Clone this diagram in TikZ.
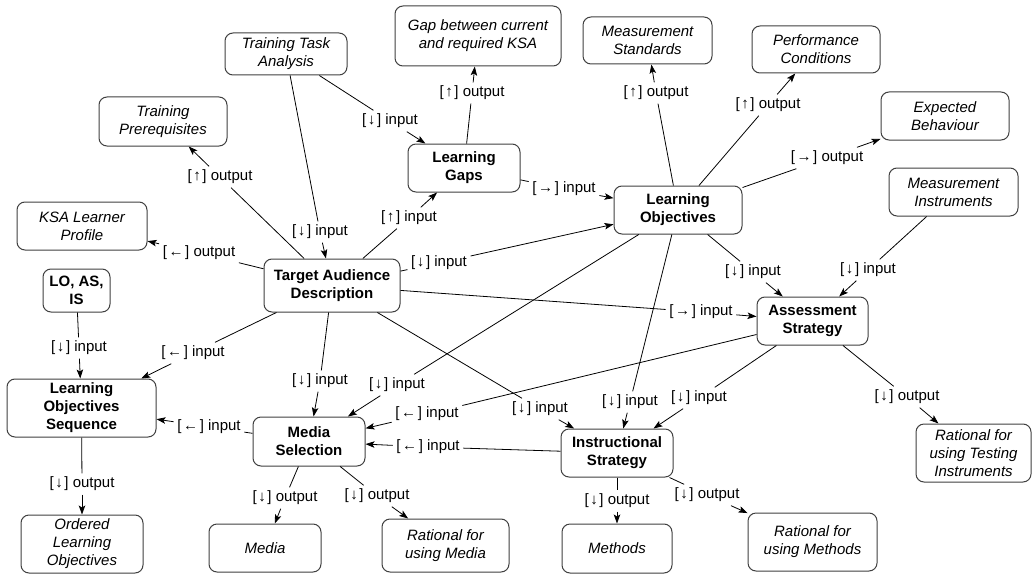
\documentclass[tikz,border=0pt]{standalone}
\usepackage{fontspec}
\setmainfont{Liberation Sans}
\usetikzlibrary{arrows.meta}
% direction mark in a linking phrase, e.g. \dm{↓}
\newcommand\dm[1]{[\kern1.6pt#1\kern1.6pt]}
\begin{document}
\begin{tikzpicture}[x=1pt,y=-1pt,
  base/.style={font=\fontsize{15}{18}\selectfont},
  box/.style={base, draw=black!75, line width=1pt, rounded corners=8pt,
    align=center, inner sep=2pt, fill=white},
  sz/.style 2 args={minimum width=#1pt, minimum height=#2pt},
  concept/.style={box, font=\fontsize{15}{18}\selectfont\bfseries},
  result/.style={box, font=\fontsize{15}{18}\selectfont\itshape},
  lab/.style={base, inner sep=3.5pt},
  conn/.style={line width=0.8pt, black},
  arr/.style={conn, -{Stealth[length=9pt,width=6.5pt,inset=2pt]}}
]
\useasboundingbox (0,0) rectangle (1035,575);

% concepts
\node[concept, sz={136}{53}] (tad) at (332,285.5) {Target Audience\\Description};
\node[concept, sz={112}{48}] (lg) at (464,168) {Learning\\Gaps};
\node[concept, sz={128}{48}] (lo) at (678,210) {Learning\\Objectives};
\node[concept, sz={111}{48}] (as) at (812.5,321) {Assessment\\Strategy};
\node[concept, sz={67}{43}] (loasis) at (76.5,290.5) {LO, AS,\\IS};
\node[concept, sz={149}{58}] (los) at (81.5,408) {Learning\\Objectives\\Sequence};
\node[concept, sz={112}{49}] (msel) at (309,441.5) {Media\\Selection};
\node[concept, sz={112}{48}] (is) at (617,453) {Instructional\\Strategy};

% inputs and results
\node[result, sz={122}{42}] (tta) at (286,54) {Training Task\\Analysis};
\node[result, sz={128}{49}] (tp) at (163,121.5) {Training\\Prerequisites};
\node[result, sz={166}{60}] (gap) at (478,36) {Gap between current\\and required KSA};
\node[result, sz={129}{47}] (mstd) at (647.5,40.5) {Measurement\\Standards};
\node[result, sz={128}{47}] (pc) at (816,49.5) {Performance\\Conditions};
\node[result, sz={128}{48}] (eb) at (945,116) {Expected\\Behaviour};
\node[result, sz={129}{48}] (mi) at (953.5,192) {Measurement\\Instruments};
\node[result, sz={130}{48}] (ksa) at (82,226) {KSA Learner\\Profile};
\node[result, sz={122}{58}] (olo) at (82,544) {Ordered\\Learning\\Objectives};
\node[result, sz={112}{48}] (media) at (265,548) {Media};
\node[result, sz={127}{53}] (rmedia) at (445.5,545.5) {Rational for\\using Media};
\node[result, sz={110}{49}] (methods) at (617,548.5) {Methods};
\node[result, sz={129}{58}] (rmethods) at (812.5,542) {Rational for\\using Methods};
\node[result, sz={115}{58}] (rtest) at (973.5,453) {Rational for\\using Testing\\Instruments};

% linking phrases
\node[lab] (l1)  at (220,177) {\dm{↑} output};
\node[lab] (l2)  at (320,232) {\dm{↓} input};
\node[lab] (l3)  at (390,121) {\dm{↓} input};
\node[lab] (l4)  at (472,93)  {\dm{↑} output};
\node[lab] (l5)  at (656,93)  {\dm{↑} output};
\node[lab] (l6)  at (768,105) {\dm{↑} output};
\node[lab] (l7)  at (827,158) {\dm{→} output};
\node[lab] (l8)  at (868,270) {\dm{↓} input};
\node[lab] (l9)  at (753,272) {\dm{↓} input};
\node[lab] (l10) at (701,312) {\dm{→} input};
\node[lab] (l11) at (564,189) {\dm{→} input};
\node[lab] (l12) at (409,218) {\dm{↑} input};
\node[lab] (l13) at (439,263) {\dm{↓} input};
\node[lab] (l14) at (199,253) {\dm{←} output};
\node[lab] (l15) at (79,348)  {\dm{↓} input};
\node[lab] (l16) at (193,353) {\dm{←} input};
\node[lab] (l17) at (320,381) {\dm{↓} input};
\node[lab] (l18) at (397,385) {\dm{↓} input};
\node[lab] (l19) at (427,414) {\dm{←} input};
\node[lab] (l20) at (428,447) {\dm{←} input};
\node[lab] (l21) at (209,427) {\dm{←} input};
\node[lab] (l22) at (82,484)  {\dm{↓} output};
\node[lab] (l23) at (285,498) {\dm{↓} output};
\node[lab] (l24) at (377,496) {\dm{↓} output};
\node[lab] (l25) at (540,409) {\dm{↓} input};
\node[lab] (l26) at (630,402) {\dm{↓} input};
\node[lab] (l27) at (699,398) {\dm{↓} input};
\node[lab] (l28) at (617,501) {\dm{↓} output};
\node[lab] (l29) at (707,495) {\dm{↓} output};
\node[lab] (l30) at (907,397) {\dm{↓} output};

% propositions: source -- phrase -> target
\foreach \s/\l/\t in {
  tad/l1/tp, tta/l2/tad, tta/l3/lg, lg/l4/gap, lo/l5/mstd, lo/l6/pc,
  lo/l7/eb, mi/l8/as, lo/l9/as, tad/l10/as, lg/l11/lo, tad/l12/lg,
  tad/l13/lo, tad/l14/ksa, loasis/l15/los, tad/l16/los, tad/l17/msel,
  lo/l18/msel, as/l19/msel, is/l20/msel, msel/l21/los, los/l22/olo,
  msel/l23/media, msel/l24/rmedia, tad/l25/is, lo/l26/is, as/l27/is,
  is/l28/methods, is/l29/rmethods, as/l30/rtest}{
  \draw[conn] (\s) -- (\l);
  \draw[arr] (\l) -- (\t);
}
\end{tikzpicture}
\end{document}
